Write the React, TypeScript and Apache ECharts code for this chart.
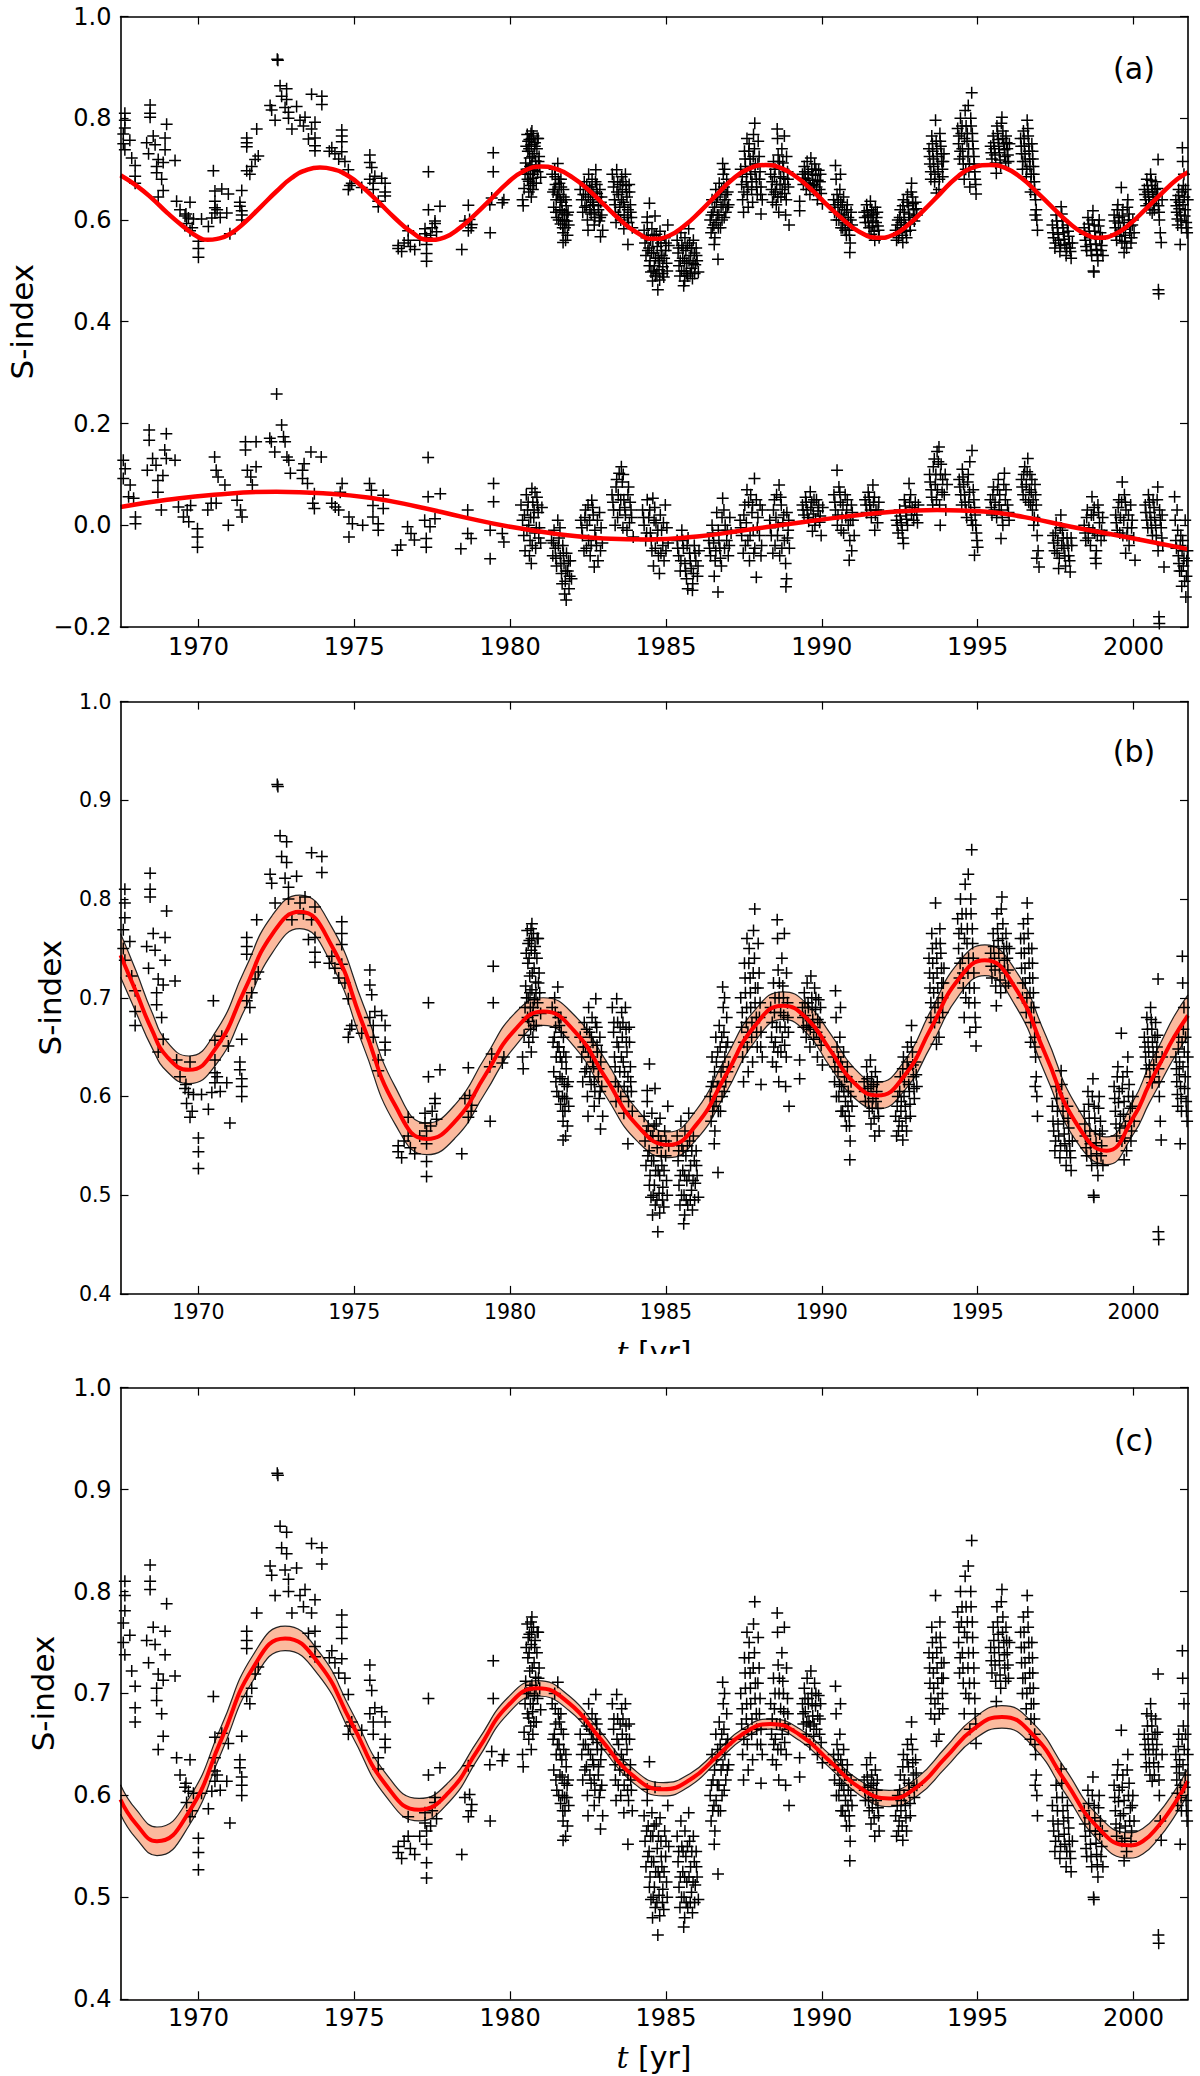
import { useEffect, useRef } from 'react';
import * as echarts from 'echarts';

// time axis (years) shared by all three panels
const X_MIN = 1967.5;
const X_MAX = 2001.75;
const xTicks = [1970, 1975, 1980, 1985, 1990, 1995, 2000];

// S-index observations, sparse early part [t, S]
const sEarly: number[][] = [
    [1967.64, 0.810], [1967.64, 0.796], [1967.64, 0.781], [1967.59, 0.769], [1967.80, 0.757], [1967.59, 0.750],
    [1967.64, 0.738], [1967.86, 0.722], [1967.97, 0.707], [1967.97, 0.686], [1967.97, 0.672],
    [1968.45, 0.826], [1968.45, 0.810], [1968.45, 0.802], [1968.98, 0.788], [1968.55, 0.765], [1968.34, 0.752],
    [1968.61, 0.748], [1968.93, 0.761], [1968.40, 0.730], [1968.93, 0.738], [1968.71, 0.719], [1968.87, 0.713],
    [1968.66, 0.705], [1968.66, 0.693], [1968.82, 0.680], [1969.25, 0.717], [1968.71, 0.645], [1968.87, 0.658],
    [1969.30, 0.637], [1969.73, 0.635], [1969.41, 0.620], [1969.57, 0.608], [1969.68, 0.604], [1969.84, 0.602],
    [1969.62, 0.593], [1969.73, 0.579], [1970.00, 0.558], [1970.00, 0.544], [1970.00, 0.527], [1970.10, 0.602],
    [1970.43, 0.604], [1970.32, 0.587], [1970.53, 0.614], [1970.53, 0.624], [1970.53, 0.637], [1970.53, 0.657],
    [1970.48, 0.697], [1970.75, 0.661], [1970.96, 0.651], [1971.01, 0.573], [1970.91, 0.614], [1971.39, 0.658],
    [1971.33, 0.635], [1971.33, 0.627], [1971.39, 0.618], [1971.39, 0.610], [1971.39, 0.600], [1969.60, 0.612],
    [1969.80, 0.585], [1970.60, 0.620], [1970.70, 0.605],
    [1971.55, 0.761], [1971.55, 0.752], [1971.55, 0.744], [1971.87, 0.779], [1971.71, 0.705], [1971.82, 0.719],
    [1971.92, 0.726], [1971.65, 0.690], [1971.55, 0.697],
    [1972.53, 0.916], [1972.55, 0.914], [1972.62, 0.864], [1972.83, 0.858], [1972.67, 0.843], [1972.83, 0.837],
    [1972.30, 0.825], [1972.35, 0.816], [1972.78, 0.821], [1972.89, 0.812], [1972.46, 0.796], [1972.89, 0.800],
    [1973.15, 0.823], [1973.26, 0.796], [1973.42, 0.802], [1973.37, 0.785], [1973.63, 0.847], [1973.96, 0.843],
    [1973.96, 0.827], [1973.74, 0.792], [1973.63, 0.779], [1973.53, 0.759], [1973.74, 0.761], [1973.74, 0.746],
    [1973.74, 0.736], [1973.00, 0.779],
    [1974.60, 0.777], [1974.60, 0.765], [1974.60, 0.754], [1974.28, 0.742], [1974.38, 0.730], [1974.60, 0.734],
    [1974.70, 0.715], [1974.81, 0.699], [1974.92, 0.672], [1974.81, 0.660], [1974.86, 0.668], [1974.20, 0.735],
    [1974.50, 0.720],
    [1975.50, 0.728], [1975.50, 0.713], [1975.56, 0.703], [1975.66, 0.686], [1975.50, 0.680], [1975.88, 0.682],
    [1975.99, 0.672], [1975.61, 0.672], [1975.24, 0.664], [1975.61, 0.660], [1975.99, 0.655], [1975.99, 0.647],
    [1975.77, 0.637], [1975.77, 0.626],
    [1976.41, 0.550], [1976.41, 0.544], [1976.52, 0.538], [1976.73, 0.579], [1976.73, 0.560], [1976.94, 0.542],
    [1977.27, 0.583], [1977.27, 0.573], [1977.32, 0.565], [1977.32, 0.552], [1977.32, 0.534], [1977.32, 0.519],
    [1977.38, 0.620], [1977.75, 0.627], [1977.59, 0.598], [1977.59, 0.593], [1977.64, 0.577], [1977.38, 0.695],
    [1978.45, 0.542], [1976.60, 0.555], [1976.80, 0.548], [1977.10, 0.560], [1977.45, 0.570], [1977.50, 0.585],
    [1978.66, 0.629], [1978.66, 0.579], [1978.77, 0.591], [1978.55, 0.598], [1978.70, 0.601], [1978.75, 0.585],
    [1979.36, 0.575], [1979.46, 0.732], [1979.46, 0.695], [1979.41, 0.643], [1979.35, 0.630], [1979.80, 0.640],
    [1979.75, 0.634],
];

// S-index observations, dense seasons from 1980 on [t, S]
const sSeasons: number[][] = [
    [1980.40, 0.640], [1980.42, 0.628], [1980.45, 0.662], [1980.48, 0.690], [1980.50, 0.712], [1980.52, 0.745],
    [1980.55, 0.768], [1980.57, 0.735], [1980.58, 0.700], [1980.60, 0.676], [1980.62, 0.758], [1980.63, 0.722],
    [1980.65, 0.690], [1980.67, 0.770], [1980.68, 0.748], [1980.70, 0.708], [1980.72, 0.682], [1980.73, 0.660],
    [1980.75, 0.765], [1980.77, 0.730], [1980.78, 0.698], [1980.80, 0.752], [1980.82, 0.716], [1980.84, 0.672],
    [1980.86, 0.740], [1980.88, 0.695], [1980.90, 0.760], [1980.93, 0.725], [1980.95, 0.705], [1980.98, 0.684],
    [1980.68, 0.645], [1980.60, 0.655], [1980.70, 0.775],

    [1981.35, 0.690], [1981.38, 0.655], [1981.40, 0.625], [1981.43, 0.700], [1981.46, 0.670], [1981.48, 0.640],
    [1981.50, 0.605], [1981.53, 0.711], [1981.55, 0.680], [1981.57, 0.650], [1981.60, 0.620], [1981.62, 0.592],
    [1981.64, 0.665], [1981.66, 0.635], [1981.68, 0.600], [1981.70, 0.575], [1981.72, 0.645], [1981.74, 0.612],
    [1981.76, 0.585], [1981.78, 0.560], [1981.80, 0.628], [1981.82, 0.598], [1981.84, 0.570], [1981.86, 0.615],
    [1981.88, 0.590], [1981.70, 0.556], [1981.58, 0.672], [1981.45, 0.685],

    [1982.25, 0.660], [1982.30, 0.640], [1982.33, 0.615], [1982.38, 0.675], [1982.42, 0.650], [1982.45, 0.628],
    [1982.48, 0.600], [1982.52, 0.690], [1982.55, 0.665], [1982.58, 0.640], [1982.60, 0.612], [1982.63, 0.680],
    [1982.66, 0.655], [1982.68, 0.630], [1982.72, 0.605], [1982.75, 0.699], [1982.78, 0.670], [1982.80, 0.645],
    [1982.83, 0.620], [1982.86, 0.598], [1982.88, 0.660], [1982.91, 0.635], [1982.94, 0.610], [1982.97, 0.580],
    [1982.90, 0.567], [1982.70, 0.590], [1982.50, 0.580],

    [1983.28, 0.690], [1983.32, 0.665], [1983.35, 0.640], [1983.38, 0.615], [1983.42, 0.699], [1983.45, 0.675],
    [1983.48, 0.650], [1983.52, 0.625], [1983.55, 0.600], [1983.58, 0.685], [1983.60, 0.660], [1983.63, 0.635],
    [1983.66, 0.610], [1983.70, 0.690], [1983.72, 0.668], [1983.75, 0.645], [1983.78, 0.620], [1983.80, 0.595],
    [1983.83, 0.655], [1983.86, 0.630], [1983.89, 0.605], [1983.92, 0.585], [1983.40, 0.595], [1983.65, 0.583],
    [1983.78, 0.552], [1984.47, 0.633], [1984.40, 0.606],

    [1984.30, 0.580], [1984.33, 0.555], [1984.36, 0.530], [1984.40, 0.595], [1984.43, 0.570], [1984.46, 0.545],
    [1984.49, 0.520], [1984.52, 0.498], [1984.55, 0.583], [1984.58, 0.560], [1984.61, 0.535], [1984.63, 0.510],
    [1984.66, 0.490], [1984.69, 0.572], [1984.72, 0.548], [1984.74, 0.463], [1984.75, 0.525], [1984.78, 0.502],
    [1984.81, 0.578], [1984.84, 0.555], [1984.87, 0.530], [1984.90, 0.508], [1984.93, 0.488], [1984.96, 0.565],
    [1984.99, 0.540], [1985.02, 0.515], [1985.06, 0.590], [1985.09, 0.550], [1984.65, 0.608], [1984.57, 0.480],
    [1984.80, 0.482],

    [1985.36, 0.560], [1985.39, 0.535], [1985.42, 0.510], [1985.45, 0.490], [1985.48, 0.575], [1985.51, 0.550],
    [1985.54, 0.525], [1985.57, 0.471], [1985.58, 0.500], [1985.61, 0.565], [1985.64, 0.540], [1985.67, 0.515],
    [1985.70, 0.490], [1985.73, 0.583], [1985.76, 0.555], [1985.79, 0.530], [1985.82, 0.505], [1985.85, 0.485],
    [1985.88, 0.560], [1985.91, 0.535], [1985.94, 0.512], [1985.97, 0.545], [1986.00, 0.520], [1986.04, 0.498],
    [1985.60, 0.480],

    [1986.42, 0.600], [1986.45, 0.575], [1986.48, 0.640], [1986.51, 0.615], [1986.54, 0.590], [1986.57, 0.565],
    [1986.60, 0.660], [1986.62, 0.635], [1986.65, 0.610], [1986.67, 0.523], [1986.68, 0.585], [1986.71, 0.672],
    [1986.74, 0.650], [1986.77, 0.625], [1986.80, 0.600], [1986.82, 0.711], [1986.84, 0.690], [1986.86, 0.665],
    [1986.89, 0.640], [1986.92, 0.615], [1986.95, 0.680], [1986.98, 0.655], [1987.01, 0.630], [1986.55, 0.552],
    [1986.88, 0.700],

    [1987.40, 0.700], [1987.43, 0.670], [1987.46, 0.640], [1987.49, 0.615], [1987.52, 0.735], [1987.55, 0.705],
    [1987.58, 0.675], [1987.61, 0.650], [1987.64, 0.625], [1987.67, 0.750], [1987.70, 0.720], [1987.72, 0.690],
    [1987.75, 0.660], [1987.78, 0.635], [1987.81, 0.768], [1987.84, 0.740], [1987.85, 0.790], [1987.87, 0.710],
    [1987.90, 0.680], [1987.93, 0.650], [1987.96, 0.755], [1987.99, 0.725], [1988.02, 0.695], [1988.05, 0.665],
    [1988.09, 0.640], [1987.60, 0.760], [1988.05, 0.612],

    [1988.36, 0.690], [1988.39, 0.660], [1988.42, 0.635], [1988.45, 0.715], [1988.48, 0.685], [1988.51, 0.655],
    [1988.54, 0.630], [1988.57, 0.779], [1988.58, 0.760], [1988.60, 0.728], [1988.63, 0.700], [1988.66, 0.670],
    [1988.69, 0.645], [1988.72, 0.740], [1988.75, 0.712], [1988.78, 0.682], [1988.81, 0.652], [1988.84, 0.610],
    [1988.87, 0.725], [1988.90, 0.695], [1988.93, 0.665], [1988.95, 0.590], [1988.62, 0.615], [1988.80, 0.765],

    [1989.38, 0.690], [1989.41, 0.670], [1989.44, 0.705], [1989.47, 0.682], [1989.50, 0.660], [1989.53, 0.715],
    [1989.56, 0.695], [1989.59, 0.672], [1989.62, 0.650], [1989.65, 0.722], [1989.68, 0.700], [1989.71, 0.678],
    [1989.74, 0.658], [1989.77, 0.710], [1989.80, 0.688], [1989.83, 0.665], [1989.86, 0.640], [1989.90, 0.698],
    [1989.94, 0.675], [1989.98, 0.652], [1990.02, 0.632], [1989.29, 0.637], [1989.29, 0.618],

    [1990.38, 0.640], [1990.41, 0.615], [1990.44, 0.707], [1990.46, 0.680], [1990.49, 0.650], [1990.52, 0.625],
    [1990.55, 0.600], [1990.58, 0.660], [1990.61, 0.635], [1990.64, 0.610], [1990.67, 0.585], [1990.70, 0.645],
    [1990.73, 0.620], [1990.76, 0.595], [1990.79, 0.570], [1990.82, 0.630], [1990.85, 0.605], [1990.88, 0.580],
    [1990.91, 0.555], [1990.94, 0.615], [1990.97, 0.590], [1990.90, 0.536], [1990.60, 0.690],

    [1991.36, 0.615], [1991.40, 0.595], [1991.44, 0.630], [1991.48, 0.608], [1991.52, 0.585], [1991.56, 0.637],
    [1991.60, 0.620], [1991.64, 0.598], [1991.68, 0.578], [1991.72, 0.625], [1991.76, 0.605], [1991.80, 0.588],
    [1991.84, 0.565], [1991.58, 0.572], [1991.70, 0.560],

    [1992.37, 0.580], [1992.40, 0.560], [1992.44, 0.600], [1992.48, 0.575], [1992.52, 0.620], [1992.55, 0.595],
    [1992.58, 0.570], [1992.62, 0.640], [1992.65, 0.615], [1992.68, 0.590], [1992.72, 0.565], [1992.75, 0.650],
    [1992.78, 0.628], [1992.81, 0.605], [1992.84, 0.580], [1992.88, 0.672], [1992.91, 0.645], [1992.94, 0.620],
    [1992.97, 0.598], [1993.01, 0.635], [1993.05, 0.610], [1992.60, 0.556],

    [1993.44, 0.740], [1993.47, 0.710], [1993.50, 0.680], [1993.53, 0.765], [1993.56, 0.735], [1993.59, 0.705],
    [1993.62, 0.675], [1993.65, 0.796], [1993.67, 0.755], [1993.70, 0.725], [1993.73, 0.695], [1993.76, 0.660],
    [1993.79, 0.770], [1993.82, 0.745], [1993.85, 0.715], [1993.88, 0.685], [1993.92, 0.730], [1993.68, 0.653],

    [1994.36, 0.780], [1994.39, 0.750], [1994.42, 0.720], [1994.45, 0.800], [1994.48, 0.770], [1994.51, 0.740],
    [1994.54, 0.710], [1994.57, 0.680], [1994.60, 0.815], [1994.63, 0.785], [1994.66, 0.755], [1994.69, 0.725],
    [1994.72, 0.695], [1994.75, 0.665], [1994.78, 0.800], [1994.81, 0.850], [1994.83, 0.770], [1994.86, 0.740],
    [1994.89, 0.710], [1994.92, 0.680], [1994.95, 0.651], [1994.70, 0.825],

    [1995.42, 0.745], [1995.46, 0.720], [1995.50, 0.765], [1995.54, 0.740], [1995.58, 0.712], [1995.62, 0.785],
    [1995.66, 0.758], [1995.70, 0.732], [1995.74, 0.705], [1995.78, 0.802], [1995.81, 0.775], [1995.84, 0.750],
    [1995.87, 0.725], [1995.91, 0.765], [1995.95, 0.740], [1995.99, 0.715], [1996.02, 0.750], [1995.60, 0.692],

    [1996.38, 0.760], [1996.41, 0.730], [1996.44, 0.700], [1996.47, 0.775], [1996.50, 0.745], [1996.53, 0.715],
    [1996.56, 0.685], [1996.59, 0.796], [1996.62, 0.765], [1996.65, 0.735], [1996.68, 0.705], [1996.71, 0.675],
    [1996.74, 0.750], [1996.77, 0.720], [1996.80, 0.690], [1996.83, 0.660], [1996.86, 0.640], [1996.88, 0.620],
    [1996.90, 0.600], [1996.92, 0.580], [1996.85, 0.610], [1996.70, 0.655],

    [1997.40, 0.590], [1997.44, 0.565], [1997.48, 0.545], [1997.52, 0.610], [1997.56, 0.585], [1997.60, 0.560],
    [1997.64, 0.538], [1997.68, 0.626], [1997.72, 0.598], [1997.76, 0.575], [1997.80, 0.552], [1997.84, 0.530],
    [1997.88, 0.590], [1997.92, 0.568], [1997.96, 0.545], [1998.00, 0.525], [1998.04, 0.555],

    [1998.42, 0.585], [1998.46, 0.560], [1998.50, 0.540], [1998.54, 0.605], [1998.58, 0.578], [1998.62, 0.552],
    [1998.66, 0.530], [1998.70, 0.618], [1998.72, 0.500], [1998.73, 0.498], [1998.74, 0.590], [1998.78, 0.565],
    [1998.82, 0.542], [1998.86, 0.520], [1998.90, 0.600], [1998.94, 0.575], [1998.98, 0.550], [1999.02, 0.530],

    [1999.38, 0.610], [1999.42, 0.585], [1999.46, 0.560], [1999.50, 0.630], [1999.54, 0.605], [1999.58, 0.580],
    [1999.61, 0.664], [1999.63, 0.555], [1999.66, 0.620], [1999.70, 0.595], [1999.74, 0.570], [1999.78, 0.545],
    [1999.82, 0.640], [1999.86, 0.612], [1999.90, 0.588], [1999.94, 0.565], [1999.98, 0.600], [2000.02, 0.575],
    [1999.70, 0.536],

    [2000.35, 0.660], [2000.39, 0.640], [2000.43, 0.680], [2000.47, 0.655], [2000.51, 0.632], [2000.55, 0.690],
    [2000.59, 0.668], [2000.63, 0.645], [2000.67, 0.620], [2000.71, 0.675], [2000.75, 0.650], [2000.79, 0.719],
    [2000.80, 0.628], [2000.83, 0.600], [2000.86, 0.575], [2000.89, 0.556], [2000.80, 0.463], [2000.81, 0.455],
    [2000.92, 0.640], [2000.60, 0.614],

    [2001.36, 0.640], [2001.39, 0.615], [2001.42, 0.590], [2001.45, 0.660], [2001.48, 0.635], [2001.51, 0.610],
    [2001.54, 0.585], [2001.57, 0.742], [2001.58, 0.715], [2001.60, 0.668], [2001.63, 0.645], [2001.66, 0.620],
    [2001.69, 0.595], [2001.72, 0.575], [2001.50, 0.552], [2001.62, 0.690],
];

// extra points in the crowded cores of each season [t, S]
const sCores: number[][] = [
    [1980.53, 0.700], [1980.56, 0.680], [1980.61, 0.740], [1980.64, 0.705], [1980.69, 0.760], [1980.71, 0.725],
    [1980.74, 0.690], [1980.79, 0.745], [1980.83, 0.705], [1980.87, 0.760], [1980.91, 0.715], [1980.66, 0.668],
    [1980.76, 0.672], [1980.58, 0.755],
    [1981.42, 0.660], [1981.47, 0.615], [1981.52, 0.650], [1981.56, 0.600], [1981.61, 0.640], [1981.63, 0.680],
    [1981.67, 0.618], [1981.71, 0.660], [1981.75, 0.598], [1981.79, 0.640], [1981.83, 0.610], [1981.69, 0.585],
    [1982.35, 0.650], [1982.40, 0.625], [1982.46, 0.668], [1982.51, 0.645], [1982.56, 0.620], [1982.61, 0.660],
    [1982.65, 0.635], [1982.70, 0.615], [1982.74, 0.675], [1982.79, 0.652], [1982.84, 0.628], [1982.89, 0.605],
    [1982.93, 0.645],
    [1983.33, 0.675], [1983.37, 0.630], [1983.43, 0.655], [1983.47, 0.610], [1983.53, 0.670], [1983.57, 0.640],
    [1983.62, 0.675], [1983.67, 0.625], [1983.73, 0.655], [1983.77, 0.605], [1983.82, 0.670], [1983.87, 0.615],
    [1984.38, 0.565], [1984.42, 0.540], [1984.47, 0.510], [1984.51, 0.560], [1984.54, 0.535], [1984.59, 0.500],
    [1984.62, 0.570], [1984.67, 0.525], [1984.71, 0.495], [1984.76, 0.560], [1984.80, 0.520], [1984.85, 0.540],
    [1984.89, 0.495], [1984.94, 0.525], [1985.00, 0.555], [1985.04, 0.500],
    [1985.41, 0.545], [1985.46, 0.520], [1985.50, 0.500], [1985.55, 0.545], [1985.60, 0.520], [1985.65, 0.495],
    [1985.69, 0.550], [1985.74, 0.520], [1985.78, 0.495], [1985.83, 0.545], [1985.87, 0.515], [1985.92, 0.495],
    [1985.98, 0.530],
    [1986.46, 0.610], [1986.50, 0.585], [1986.56, 0.625], [1986.61, 0.595], [1986.66, 0.645], [1986.70, 0.610],
    [1986.75, 0.585], [1986.79, 0.660], [1986.83, 0.630], [1986.87, 0.605], [1986.93, 0.650], [1986.97, 0.625],
    [1987.45, 0.685], [1987.50, 0.655], [1987.54, 0.720], [1987.59, 0.690], [1987.63, 0.665], [1987.66, 0.735],
    [1987.71, 0.705], [1987.76, 0.675], [1987.80, 0.725], [1987.86, 0.695], [1987.91, 0.665], [1987.95, 0.710],
    [1988.00, 0.680], [1988.04, 0.650],
    [1988.41, 0.675], [1988.46, 0.650], [1988.50, 0.700], [1988.55, 0.670], [1988.59, 0.645], [1988.64, 0.715],
    [1988.68, 0.685], [1988.73, 0.660], [1988.77, 0.700], [1988.82, 0.670], [1988.86, 0.640], [1988.91, 0.680],
    [1989.40, 0.680], [1989.46, 0.695], [1989.52, 0.672], [1989.57, 0.690], [1989.63, 0.668], [1989.69, 0.690],
    [1989.75, 0.670], [1989.81, 0.700], [1989.87, 0.678], [1989.93, 0.660], [1989.96, 0.690],
    [1990.42, 0.630], [1990.47, 0.600], [1990.53, 0.640], [1990.57, 0.612], [1990.62, 0.585], [1990.66, 0.630],
    [1990.71, 0.605], [1990.75, 0.580], [1990.80, 0.620], [1990.84, 0.590], [1990.89, 0.570], [1990.93, 0.600],
    [1991.38, 0.605], [1991.46, 0.618], [1991.50, 0.595], [1991.58, 0.610], [1991.62, 0.588], [1991.66, 0.612],
    [1991.74, 0.595], [1991.78, 0.615], [1991.82, 0.580],
    [1992.42, 0.590], [1992.46, 0.565], [1992.50, 0.605], [1992.54, 0.585], [1992.60, 0.628], [1992.64, 0.600],
    [1992.70, 0.578], [1992.74, 0.635], [1992.79, 0.612], [1992.83, 0.592], [1992.87, 0.655], [1992.92, 0.632],
    [1992.96, 0.608], [1993.03, 0.622],
    [1993.46, 0.725], [1993.50, 0.695], [1993.55, 0.750], [1993.58, 0.720], [1993.63, 0.690], [1993.69, 0.740],
    [1993.72, 0.710], [1993.77, 0.680], [1993.80, 0.755], [1993.84, 0.730], [1993.87, 0.700], [1993.90, 0.715],
    [1994.40, 0.765], [1994.44, 0.735], [1994.50, 0.785], [1994.53, 0.725], [1994.58, 0.760], [1994.62, 0.700],
    [1994.67, 0.770], [1994.71, 0.740], [1994.74, 0.710], [1994.79, 0.785], [1994.84, 0.755], [1994.88, 0.725],
    [1994.91, 0.695], [1994.94, 0.670],
    [1995.44, 0.732], [1995.52, 0.752], [1995.56, 0.728], [1995.64, 0.770], [1995.68, 0.745], [1995.72, 0.718],
    [1995.76, 0.790], [1995.80, 0.760], [1995.86, 0.738], [1995.90, 0.712], [1995.93, 0.752], [1995.97, 0.728],
    [1996.40, 0.745], [1996.45, 0.715], [1996.49, 0.760], [1996.52, 0.730], [1996.58, 0.700], [1996.61, 0.780],
    [1996.64, 0.750], [1996.67, 0.720], [1996.72, 0.690], [1996.76, 0.735], [1996.79, 0.705], [1996.82, 0.675],
    [1996.84, 0.650],
    [1997.42, 0.575], [1997.50, 0.555], [1997.54, 0.598], [1997.58, 0.572], [1997.66, 0.550], [1997.70, 0.612],
    [1997.74, 0.585], [1997.78, 0.562], [1997.86, 0.545], [1997.90, 0.578], [1997.94, 0.555], [1997.98, 0.538],
    [1998.44, 0.572], [1998.48, 0.548], [1998.56, 0.592], [1998.60, 0.565], [1998.64, 0.540], [1998.68, 0.600],
    [1998.76, 0.578], [1998.80, 0.553], [1998.84, 0.532], [1998.88, 0.588], [1998.92, 0.562], [1998.96, 0.540],
    [1999.00, 0.565],
    [1999.40, 0.598], [1999.44, 0.572], [1999.48, 0.620], [1999.52, 0.594], [1999.56, 0.568], [1999.64, 0.608],
    [1999.68, 0.582], [1999.72, 0.558], [1999.80, 0.625], [1999.84, 0.600], [1999.88, 0.575], [1999.92, 0.555],
    [1999.96, 0.590],
    [2000.37, 0.650], [2000.41, 0.628], [2000.45, 0.668], [2000.49, 0.645], [2000.53, 0.620], [2000.57, 0.678],
    [2000.61, 0.655], [2000.65, 0.632], [2000.69, 0.660], [2000.73, 0.640], [2000.77, 0.662], [2000.82, 0.615],
    [2001.38, 0.628], [2001.41, 0.602], [2001.44, 0.648], [2001.47, 0.622], [2001.53, 0.598], [2001.56, 0.655],
    [2001.59, 0.630], [2001.64, 0.608], [2001.67, 0.660], [2001.70, 0.585], [2001.74, 0.640],
];

// residuals shown in the lower half of panel (a), early part [t, dS]
const rEarly: number[][] = [
    [1967.59, 0.128], [1967.65, 0.111], [1967.59, 0.092], [1967.81, 0.079], [1967.76, 0.056], [1967.92, 0.053],
    [1967.98, 0.016], [1967.98, 0.003], [1968.36, 0.108], [1968.42, 0.187], [1968.42, 0.167], [1968.53, 0.131],
    [1968.97, 0.180], [1968.92, 0.148], [1968.97, 0.131], [1968.64, 0.118], [1968.86, 0.098], [1968.70, 0.088],
    [1968.70, 0.065], [1968.81, 0.030], [1969.25, 0.128], [1969.36, 0.036], [1969.64, 0.030], [1969.75, 0.039],
    [1969.52, 0.016], [1969.69, 0.007], [1969.97, -0.007], [1969.97, -0.023], [1969.97, -0.043], [1970.30, 0.030],
    [1970.41, 0.043], [1970.52, 0.134], [1970.57, 0.108], [1970.63, 0.095], [1970.85, 0.079], [1970.57, 0.043],
    [1970.96, 0.000], [1971.24, 0.049], [1971.35, 0.030], [1971.40, 0.016], [1971.51, 0.164], [1971.51, 0.148],
    [1971.85, 0.164], [1971.57, 0.108], [1971.68, 0.095], [1971.73, 0.079], [1971.85, 0.115], [1972.51, 0.258],
    [1972.67, 0.197], [1972.29, 0.171], [1972.34, 0.164], [1972.73, 0.174], [1972.78, 0.164], [1972.45, 0.144],
    [1972.84, 0.134], [1972.90, 0.128], [1972.95, 0.102], [1973.39, 0.121], [1973.34, 0.108], [1973.34, 0.092],
    [1973.61, 0.144], [1973.94, 0.134], [1973.50, 0.082], [1973.72, 0.062], [1973.67, 0.043], [1973.72, 0.033],
    [1974.28, 0.043], [1974.39, 0.036], [1974.61, 0.082], [1974.55, 0.065], [1974.50, 0.030], [1974.83, 0.016],
    [1974.83, -0.023], [1974.94, 0.003], [1975.27, 0.000], [1975.49, 0.082], [1975.55, 0.069], [1975.60, 0.039],
    [1975.60, 0.016], [1975.77, 0.003], [1975.77, -0.010], [1975.93, 0.059], [1975.93, 0.033], [1976.38, -0.049],
    [1976.49, -0.039], [1976.71, -0.003], [1976.82, -0.016], [1976.93, -0.029], [1977.31, -0.026], [1977.31, -0.043],
    [1977.26, 0.010], [1977.43, -0.003], [1977.59, 0.013], [1977.37, 0.133], [1977.37, 0.056], [1977.76, 0.062],
    [1978.42, -0.046], [1978.64, 0.030], [1978.64, -0.016], [1978.75, -0.026], [1979.36, -0.066], [1979.47, 0.082],
    [1979.47, 0.046], [1979.75, -0.016], [1979.80, -0.033], [1979.36, -0.010],
];

// residuals, dense seasons [t, dS]
const rSeasons: number[][] = [
    [1980.35, 0.040], [1980.40, 0.010], [1980.44, -0.020], [1980.48, -0.050], [1980.52, 0.060], [1980.56, 0.030],
    [1980.60, 0.000], [1980.64, -0.030], [1980.68, -0.075], [1980.70, 0.072], [1980.73, 0.045], [1980.76, 0.015],
    [1980.79, -0.015], [1980.82, -0.045], [1980.86, 0.055], [1980.90, 0.025], [1980.94, -0.005], [1980.98, -0.035],
    [1981.02, 0.035], [1980.62, -0.060], [1980.80, 0.065],
    [1981.33, -0.030], [1981.37, -0.060], [1981.41, -0.010], [1981.45, -0.045], [1981.49, -0.080], [1981.53, 0.010],
    [1981.57, -0.025], [1981.61, -0.060], [1981.65, -0.095], [1981.69, -0.040], [1981.73, -0.075], [1981.77, -0.110],
    [1981.80, -0.147], [1981.81, -0.055], [1981.85, -0.090], [1981.89, -0.125], [1981.93, -0.070], [1981.97, -0.105],
    [1981.75, -0.135], [1981.60, -0.005],
    [1982.27, 0.010], [1982.32, -0.020], [1982.37, -0.050], [1982.42, 0.030], [1982.47, 0.000], [1982.52, -0.030],
    [1982.57, -0.060], [1982.62, 0.049], [1982.67, 0.020], [1982.72, -0.010], [1982.77, -0.040], [1982.82, -0.070],
    [1982.87, 0.025], [1982.92, -0.005], [1982.96, -0.035], [1982.70, -0.082], [1982.50, 0.040],
    [1983.27, 0.060], [1983.32, 0.030], [1983.37, 0.000], [1983.42, 0.090], [1983.47, 0.060], [1983.52, 0.030],
    [1983.57, 0.115], [1983.60, 0.085], [1983.65, 0.050], [1983.70, 0.020], [1983.75, -0.010], [1983.80, 0.075],
    [1983.85, 0.045], [1983.90, 0.015], [1983.95, -0.023], [1983.62, -0.005], [1983.50, 0.102],
    [1984.25, 0.030], [1984.30, 0.000], [1984.35, -0.030], [1984.40, 0.050], [1984.45, 0.015], [1984.50, -0.015],
    [1984.55, -0.050], [1984.60, -0.080], [1984.64, 0.035], [1984.68, 0.005], [1984.72, -0.025], [1984.76, -0.060],
    [1984.79, -0.095], [1984.82, 0.020], [1984.86, -0.010], [1984.90, -0.040], [1984.94, -0.070], [1984.98, 0.040],
    [1985.03, -0.005], [1985.07, -0.035], [1984.58, 0.053],
    [1985.36, -0.030], [1985.41, -0.060], [1985.46, -0.090], [1985.51, -0.010], [1985.56, -0.045], [1985.61, -0.075],
    [1985.66, -0.105], [1985.71, -0.025], [1985.76, -0.055], [1985.81, -0.085], [1985.85, -0.128], [1985.86, -0.115],
    [1985.91, -0.040], [1985.96, -0.070], [1986.01, -0.100], [1986.06, -0.050], [1985.70, -0.125],
    [1986.38, -0.030], [1986.43, -0.060], [1986.48, 0.000], [1986.53, -0.035], [1986.58, -0.070], [1986.63, 0.025],
    [1986.67, -0.131], [1986.68, -0.010], [1986.73, -0.045], [1986.78, -0.080], [1986.82, 0.053], [1986.86, 0.030],
    [1986.90, 0.000], [1986.95, -0.030], [1987.00, -0.060], [1987.05, 0.015], [1987.09, -0.015], [1986.55, -0.100],
    [1987.38, 0.010], [1987.43, -0.020], [1987.48, -0.055], [1987.53, 0.040], [1987.58, 0.005], [1987.63, -0.030],
    [1987.68, -0.070], [1987.72, 0.060], [1987.76, 0.025], [1987.80, -0.010], [1987.84, 0.092], [1987.85, -0.045],
    [1987.90, 0.050], [1987.95, 0.015], [1988.00, -0.020], [1988.05, -0.060], [1988.09, 0.030], [1987.90, -0.102],
    [1987.60, 0.070],
    [1988.33, 0.010], [1988.38, -0.020], [1988.43, -0.055], [1988.48, 0.050], [1988.53, 0.015], [1988.58, -0.020],
    [1988.63, 0.079], [1988.65, -0.060], [1988.70, 0.040], [1988.75, 0.005], [1988.80, -0.030], [1988.84, -0.075],
    [1988.88, 0.025], [1988.92, -0.010], [1988.96, -0.045], [1988.85, -0.121], [1988.87, -0.105], [1988.55, 0.060],
    [1989.38, 0.040], [1989.43, 0.020], [1989.48, 0.055], [1989.53, 0.030], [1989.58, 0.008], [1989.63, 0.066],
    [1989.68, 0.045], [1989.73, 0.022], [1989.78, 0.000], [1989.83, 0.050], [1989.88, 0.028], [1989.93, 0.006],
    [1989.98, -0.020], [1990.03, 0.035], [1989.70, -0.012],
    [1990.39, 0.060], [1990.44, 0.030], [1990.49, 0.108], [1990.50, 0.000], [1990.55, 0.075], [1990.60, 0.045],
    [1990.65, 0.015], [1990.70, -0.015], [1990.75, 0.060], [1990.80, 0.030], [1990.85, 0.000], [1990.90, -0.030],
    [1990.95, 0.040], [1991.00, 0.010], [1991.04, -0.020], [1990.88, -0.069], [1990.96, -0.050],
    [1991.39, 0.050], [1991.44, 0.025], [1991.49, 0.065], [1991.54, 0.040], [1991.59, 0.015], [1991.64, 0.079],
    [1991.69, 0.055], [1991.74, 0.030], [1991.79, 0.005], [1991.83, 0.045], [1991.70, -0.010],
    [1992.40, 0.010], [1992.45, -0.015], [1992.50, 0.030], [1992.55, 0.005], [1992.60, -0.025], [1992.65, 0.050],
    [1992.70, 0.025], [1992.75, 0.000], [1992.80, 0.082], [1992.85, 0.060], [1992.90, 0.035], [1992.95, 0.010],
    [1993.00, 0.045], [1993.05, 0.020], [1993.10, 0.040], [1992.62, -0.036],
    [1993.46, 0.100], [1993.51, 0.070], [1993.56, 0.040], [1993.61, 0.130], [1993.66, 0.100], [1993.71, 0.070],
    [1993.76, 0.154], [1993.78, 0.040], [1993.83, 0.120], [1993.88, 0.090], [1993.93, 0.060], [1993.98, 0.030],
    [1994.02, 0.080], [1993.80, 0.000], [1993.70, 0.145],
    [1994.41, 0.090], [1994.46, 0.060], [1994.51, 0.110], [1994.55, 0.080], [1994.60, 0.045], [1994.65, 0.015],
    [1994.70, 0.100], [1994.74, 0.065], [1994.78, 0.030], [1994.82, 0.147], [1994.84, 0.000], [1994.88, 0.050],
    [1994.92, 0.020], [1994.96, -0.015], [1995.00, -0.043], [1994.90, -0.059], [1994.75, 0.125],
    [1995.41, 0.050], [1995.46, 0.020], [1995.51, 0.075], [1995.56, 0.045], [1995.61, 0.015], [1995.66, 0.090],
    [1995.71, 0.060], [1995.76, 0.030], [1995.81, 0.000], [1995.86, 0.102], [1995.91, 0.070], [1995.96, 0.040],
    [1996.01, 0.010], [1995.75, -0.026],
    [1996.41, 0.090], [1996.46, 0.060], [1996.51, 0.115], [1996.56, 0.080], [1996.61, 0.131], [1996.64, 0.045],
    [1996.68, 0.100], [1996.72, 0.065], [1996.76, 0.030], [1996.80, 0.000], [1996.84, 0.080], [1996.88, 0.040],
    [1996.91, -0.020], [1996.94, -0.050], [1996.97, -0.082], [1996.90, -0.065], [1996.93, 0.010],
    [1997.42, -0.020], [1997.47, -0.050], [1997.52, 0.005], [1997.57, -0.030], [1997.62, -0.065], [1997.67, 0.020],
    [1997.72, -0.010], [1997.77, -0.045], [1997.82, -0.080], [1997.87, -0.025], [1997.92, -0.060], [1997.97, -0.092],
    [1998.02, -0.040], [1997.60, -0.085],
    [1998.42, 0.000], [1998.47, -0.030], [1998.52, 0.030], [1998.57, -0.005], [1998.62, -0.040], [1998.67, 0.056],
    [1998.72, 0.020], [1998.76, -0.015], [1998.80, -0.075], [1998.81, -0.050], [1998.86, 0.040], [1998.91, 0.005],
    [1998.96, -0.030], [1999.01, 0.015], [1999.06, -0.020], [1998.78, -0.065],
    [1999.43, 0.020], [1999.48, -0.010], [1999.53, 0.050], [1999.58, 0.015], [1999.64, 0.085], [1999.66, -0.020],
    [1999.71, 0.060], [1999.76, 0.030], [1999.81, -0.005], [1999.86, -0.040], [1999.91, 0.040], [1999.96, 0.010],
    [2000.01, -0.025], [2000.05, -0.069], [1999.75, -0.055],
    [2000.38, 0.040], [2000.43, 0.010], [2000.48, 0.060], [2000.53, 0.025], [2000.58, -0.005], [2000.63, 0.050],
    [2000.68, 0.015], [2000.73, -0.020], [2000.78, 0.075], [2000.79, -0.050], [2000.84, 0.030], [2000.89, -0.005],
    [2000.94, -0.040], [2000.98, -0.082], [2000.82, -0.180], [2000.83, -0.193], [2000.92, 0.020],
    [2001.32, 0.056], [2001.36, -0.030], [2001.40, 0.030], [2001.44, -0.060], [2001.48, -0.090], [2001.52, -0.020],
    [2001.56, -0.050], [2001.60, -0.080], [2001.64, -0.110], [2001.68, -0.141], [2001.71, -0.070], [2001.66, 0.010],
    [2001.55, -0.120],
];

// extra residual points in the crowded cores [t, dS]
const rCores: number[][] = [
    [1980.46, 0.020], [1980.54, -0.010], [1980.58, 0.045], [1980.66, 0.015], [1980.71, -0.040], [1980.77, 0.030],
    [1980.84, -0.005], [1980.88, 0.040], [1980.92, -0.025],
    [1981.39, -0.035], [1981.47, -0.065], [1981.55, -0.040], [1981.63, -0.075], [1981.67, -0.115], [1981.71, -0.055],
    [1981.79, -0.090], [1981.87, -0.070], [1981.91, -0.100],
    [1982.30, -0.005], [1982.40, 0.015], [1982.45, -0.045], [1982.55, 0.010], [1982.60, -0.040], [1982.65, 0.035],
    [1982.75, -0.025], [1982.80, 0.010], [1982.90, -0.050],
    [1983.30, 0.045], [1983.40, 0.075], [1983.45, 0.015], [1983.55, 0.050], [1983.63, 0.100], [1983.68, 0.035],
    [1983.78, 0.060], [1983.83, 0.005], [1983.88, 0.030],
    [1984.28, 0.015], [1984.38, -0.015], [1984.48, 0.030], [1984.53, -0.030], [1984.62, 0.010], [1984.66, -0.045],
    [1984.74, -0.010], [1984.84, -0.055], [1984.92, 0.005], [1985.00, -0.050],
    [1985.38, -0.045], [1985.48, -0.070], [1985.54, -0.030], [1985.63, -0.090], [1985.68, -0.040], [1985.78, -0.070],
    [1985.88, -0.095], [1985.93, -0.055], [1986.03, -0.080],
    [1986.40, -0.045], [1986.50, -0.015], [1986.60, -0.050], [1986.70, -0.030], [1986.75, -0.065], [1986.80, 0.015],
    [1986.88, -0.045], [1986.97, -0.010], [1987.03, -0.040],
    [1987.40, -0.005], [1987.50, 0.020], [1987.55, -0.040], [1987.65, 0.045], [1987.70, -0.020], [1987.78, 0.040],
    [1987.82, -0.055], [1987.93, -0.005], [1988.02, 0.040], [1988.07, -0.040],
    [1988.35, -0.005], [1988.45, 0.030], [1988.50, -0.040], [1988.60, 0.000], [1988.68, 0.055], [1988.72, -0.045],
    [1988.78, 0.020], [1988.90, -0.025], [1988.94, 0.010],
    [1989.40, 0.030], [1989.50, 0.045], [1989.55, 0.015], [1989.65, 0.035], [1989.75, 0.050], [1989.80, 0.012],
    [1989.90, 0.040], [1989.95, 0.018],
    [1990.42, 0.045], [1990.52, 0.020], [1990.58, 0.065], [1990.62, -0.010], [1990.68, 0.040], [1990.77, 0.015],
    [1990.82, 0.050], [1990.92, 0.010], [1990.98, 0.025],
    [1991.42, 0.040], [1991.52, 0.055], [1991.57, 0.030], [1991.66, 0.045], [1991.72, 0.020], [1991.81, 0.030],
    [1992.42, 0.000], [1992.52, 0.018], [1992.58, -0.010], [1992.68, 0.038], [1992.72, 0.012], [1992.82, 0.045],
    [1992.88, 0.020], [1992.98, 0.030], [1993.07, 0.005],
    [1993.48, 0.085], [1993.53, 0.055], [1993.58, 0.115], [1993.64, 0.080], [1993.68, 0.050], [1993.74, 0.125],
    [1993.81, 0.100], [1993.86, 0.065], [1993.96, 0.100],
    [1994.43, 0.075], [1994.49, 0.040], [1994.53, 0.095], [1994.58, 0.060], [1994.63, 0.030], [1994.68, 0.085],
    [1994.72, 0.045], [1994.80, 0.010], [1994.86, 0.070], [1994.90, 0.035], [1994.94, 0.000], [1994.98, -0.030],
    [1995.44, 0.035], [1995.49, 0.060], [1995.54, 0.030], [1995.64, 0.070], [1995.69, 0.040], [1995.79, 0.015],
    [1995.84, 0.080], [1995.89, 0.050], [1995.99, 0.025],
    [1996.43, 0.075], [1996.48, 0.100], [1996.54, 0.050], [1996.59, 0.105], [1996.66, 0.070], [1996.70, 0.040],
    [1996.74, 0.090], [1996.78, 0.050], [1996.82, 0.015], [1996.86, 0.060],
    [1997.44, -0.035], [1997.50, -0.015], [1997.55, -0.055], [1997.65, -0.005], [1997.70, -0.040], [1997.75, -0.025],
    [1997.80, -0.060], [1997.90, -0.040], [1997.95, -0.070], [1998.00, -0.025],
    [1998.45, -0.015], [1998.50, 0.015], [1998.55, -0.025], [1998.65, 0.020], [1998.70, -0.010], [1998.74, 0.035],
    [1998.84, -0.020], [1998.88, 0.025], [1998.98, -0.010],
    [1999.45, 0.005], [1999.51, 0.035], [1999.56, -0.015], [1999.62, 0.045], [1999.69, 0.010], [1999.74, 0.045],
    [1999.79, -0.020], [1999.84, 0.020], [1999.94, -0.005],
    [2000.40, 0.025], [2000.46, -0.005], [2000.51, 0.045], [2000.56, 0.010], [2000.61, -0.020], [2000.66, 0.035],
    [2000.71, 0.000], [2000.76, 0.050], [2000.86, 0.010], [2000.91, -0.025],
    [2001.34, 0.010], [2001.38, -0.045], [2001.42, -0.010], [2001.46, -0.075], [2001.50, -0.040], [2001.54, -0.090],
    [2001.58, -0.030], [2001.62, -0.065], [2001.70, -0.100], [2001.73, -0.050],
];

// panel (a): cycle fit through the data and slow fit through the residuals
const fitATop: number[][] = [
    [1967.5, 0.688], [1968.0, 0.668], [1968.5, 0.643], [1969.0, 0.614], [1969.5, 0.588], [1970.0, 0.566],
    [1970.3, 0.561], [1970.6, 0.563], [1971.0, 0.572], [1971.5, 0.596], [1972.0, 0.626], [1972.5, 0.656],
    [1973.0, 0.683], [1973.5, 0.699], [1973.9, 0.703], [1974.3, 0.700], [1974.8, 0.687], [1975.3, 0.663],
    [1975.8, 0.634], [1976.3, 0.604], [1976.8, 0.578], [1977.4, 0.561], [1977.9, 0.566], [1978.4, 0.585],
    [1978.9, 0.612], [1979.4, 0.642], [1979.9, 0.672], [1980.4, 0.695], [1981.0, 0.705], [1981.5, 0.700],
    [1982.0, 0.684], [1982.5, 0.660], [1983.0, 0.631], [1983.5, 0.602], [1984.0, 0.578], [1984.6, 0.563],
    [1985.1, 0.569], [1985.6, 0.589], [1986.1, 0.617], [1986.6, 0.648], [1987.1, 0.678], [1987.6, 0.699],
    [1988.2, 0.708], [1988.7, 0.702], [1989.2, 0.684], [1989.7, 0.658], [1990.2, 0.628], [1990.7, 0.600],
    [1991.2, 0.577], [1991.8, 0.565], [1992.3, 0.571], [1992.8, 0.592], [1993.3, 0.621], [1993.8, 0.652],
    [1994.3, 0.682], [1994.8, 0.702], [1995.4, 0.708], [1995.9, 0.702], [1996.4, 0.683], [1996.9, 0.655],
    [1997.4, 0.625], [1997.9, 0.596], [1998.4, 0.574], [1998.9, 0.565], [1999.4, 0.572], [1999.9, 0.593],
    [2000.4, 0.622], [2000.9, 0.652], [2001.4, 0.680], [2001.75, 0.694],
];
const fitAResid: number[][] = [
    [1967.5, 0.036], [1969.0, 0.050], [1970.5, 0.060], [1972.5, 0.066], [1974.0, 0.063], [1975.5, 0.054],
    [1977.0, 0.037], [1978.5, 0.016], [1980.0, -0.003], [1981.5, -0.017], [1983.0, -0.026], [1984.5, -0.028],
    [1986.0, -0.022], [1987.5, -0.010], [1989.0, 0.003], [1990.5, 0.015], [1992.0, 0.025], [1993.7, 0.030],
    [1995.2, 0.027], [1996.5, 0.016], [1998.0, -0.003], [1999.5, -0.020], [2000.5, -0.032], [2001.75, -0.047],
];

// panel (b): mean model and its half-width
const fitBTime = [
    1967.5, 1968.0, 1968.5, 1969.0, 1969.69, 1970.58, 1971.47, 1972.36, 1973.25, 1974.27, 1975.29, 1976.31,
    1977.33, 1978.27, 1979.2, 1980.14, 1981.07, 1982.07, 1983.07, 1984.07, 1985.07, 1985.99, 1986.92, 1987.84,
    1988.76, 1989.52, 1990.28, 1991.03, 1991.79, 1992.65, 1993.51, 1994.37, 1995.23, 1996.21, 1997.19, 1998.16,
    1999.14, 2000.0, 2000.5, 2000.9, 2001.3, 2001.75,
];
const fitBMean = [
    0.743, 0.706, 0.668, 0.640, 0.627, 0.650, 0.707, 0.764, 0.787, 0.753, 0.672, 0.591,
    0.557, 0.576, 0.6215, 0.667, 0.686, 0.666, 0.6185, 0.571, 0.551, 0.572, 0.6215, 0.671,
    0.692, 0.679, 0.6465, 0.614, 0.601, 0.621, 0.6695, 0.718, 0.738, 0.710, 0.6415, 0.573,
    0.545, 0.579, 0.612, 0.636, 0.660, 0.682,
];
const fitBSigma = [
    0.022, 0.021, 0.018, 0.015, 0.014, 0.017, 0.020, 0.019, 0.017, 0.019, 0.021, 0.019,
    0.016, 0.017, 0.018, 0.017, 0.014, 0.016, 0.018, 0.016, 0.013, 0.015, 0.018, 0.016,
    0.014, 0.015, 0.017, 0.015, 0.0135, 0.015, 0.018, 0.017, 0.0155, 0.018, 0.020, 0.018,
    0.014, 0.017, 0.019, 0.020, 0.021, 0.021,
];

// panel (c): mean model and its half-width
const fitCTime = [
    1967.5, 1968.0, 1968.67, 1969.70, 1970.73, 1971.75, 1972.78, 1973.86, 1974.93, 1976.01, 1977.08, 1978.03,
    1978.98, 1979.93, 1980.88, 1981.89, 1982.90, 1983.90, 1984.91, 1985.77, 1986.63, 1987.49, 1988.35, 1989.30,
    1990.26, 1991.21, 1992.16, 1993.07, 1993.97, 1994.88, 1995.78, 1996.80, 1997.81, 1998.83, 1999.84, 2000.3,
    2000.8, 2001.3, 2001.75,
];
const fitCMean = [
    0.596, 0.572, 0.555, 0.584, 0.6545, 0.725, 0.754, 0.7295, 0.670, 0.6105, 0.586, 0.603,
    0.6455, 0.688, 0.705, 0.6905, 0.6555, 0.6205, 0.606, 0.6153, 0.638, 0.6607, 0.670, 0.6593,
    0.6335, 0.6077, 0.597, 0.6087, 0.637, 0.6653, 0.677, 0.6586, 0.614, 0.5694, 0.551, 0.555,
    0.570, 0.591, 0.614,
];
const fitCSigma = [
    0.0145, 0.0142, 0.014, 0.0135, 0.013, 0.0125, 0.012, 0.0118, 0.0115, 0.0112, 0.011, 0.010,
    0.009, 0.008, 0.0075, 0.0072, 0.007, 0.0068, 0.0065, 0.006, 0.0055, 0.0052, 0.005, 0.0058,
    0.0065, 0.0072, 0.008, 0.009, 0.010, 0.0105, 0.011, 0.0115, 0.012, 0.0122, 0.0125, 0.0125,
    0.0125, 0.0125, 0.0125,
];

const PLUS = 'path://M0,5L10,5M5,0L5,10';
const FONT = 'DejaVu Sans';
const RED = '#ff0000';
const BAND = '#fbba9e';

const fmtY = (v: number) => (v < 0 ? '\u2212' + Math.abs(v).toFixed(1) : v.toFixed(1));

function xAxisFor(grid: number, position: string, fontSize: number, labels: boolean, margin: number) {
    return {
        type: 'value',
        gridIndex: grid,
        position,
        min: X_MIN,
        max: X_MAX,
        z: 10,
        axisLine: { show: true, onZero: false, lineStyle: { color: '#000', width: 1.6 } },
        axisTick: { show: true, inside: true, length: 8, customValues: xTicks, lineStyle: { color: '#000', width: 1.2 } },
        axisLabel: {
            show: labels,
            customValues: xTicks,
            fontSize,
            fontFamily: FONT,
            color: '#000',
            margin,
            formatter: (v: number) => String(v),
        },
        splitLine: { show: false },
    };
}

function yAxisFor(grid: number, position: string, min: number, max: number, interval: number, fontSize: number, labels: boolean) {
    return {
        type: 'value',
        gridIndex: grid,
        position,
        min,
        max,
        interval,
        z: 10,
        axisLine: { show: true, onZero: false, lineStyle: { color: '#000', width: 1.6 } },
        axisTick: { show: true, inside: true, length: 8, lineStyle: { color: '#000', width: 1.2 } },
        axisLabel: { show: labels, fontSize, fontFamily: FONT, color: '#000', margin: 9, formatter: fmtY },
        splitLine: { show: false },
    };
}

function scatter(axis: number, data: number[][]) {
    return {
        type: 'scatter',
        xAxisIndex: axis,
        yAxisIndex: axis,
        data,
        symbol: PLUS,
        symbolSize: 12,
        itemStyle: { color: '#000', borderColor: '#000', borderWidth: 1.5, opacity: 1 },
        progressive: 0,
        silent: true,
        z: 3,
    };
}

function redLine(axis: number, data: number[][], width: number) {
    return {
        type: 'line',
        xAxisIndex: axis,
        yAxisIndex: axis,
        data,
        symbol: 'none',
        smooth: true,
        lineStyle: { color: RED, width },
        silent: true,
        z: 5,
    };
}

// band = salmon area under the upper edge, covered by a white area under the lower edge
function band(axis: number, time: number[], mean: number[], sigma: number[]) {
    const common = {
        type: 'line',
        xAxisIndex: axis,
        yAxisIndex: axis,
        symbol: 'none',
        smooth: true,
        lineStyle: { color: '#222', width: 1.2 },
        silent: true,
    };
    return [
        {
            ...common,
            z: 1,
            data: time.map((t, i) => [t, mean[i] + sigma[i]]),
            areaStyle: { color: BAND, opacity: 1, origin: 'start' },
        },
        {
            ...common,
            z: 2,
            data: time.map((t, i) => [t, mean[i] - sigma[i]]),
            areaStyle: { color: '#fff', opacity: 1, origin: 'start' },
        },
    ];
}

export default function App() {
    const chartRef = useRef<HTMLDivElement>(null);

    useEffect(() => {
        if (!chartRef.current) return;
        document.body.style.margin = '0';
        const chart = echarts.init(chartRef.current, null, { renderer: 'svg' });

        const sAll = sEarly.concat(sSeasons, sCores);
        const rAll = rEarly.concat(rSeasons, rCores);
        const fitBLine = fitBTime.map((t, i) => [t, fitBMean[i]]);
        const fitCLine = fitCTime.map((t, i) => [t, fitCMean[i]]);

        const textStyle = (text: string, size: number) => ({
            text,
            font: `${size}px "${FONT}"`,
            fill: '#000',
            textAlign: 'center',
            textVerticalAlign: 'middle',
            align: 'center',
            verticalAlign: 'middle',
        });

        const option = {
            animation: false,
            backgroundColor: '#fff',
            grid: [
                { left: 120.5, top: 16.5, width: 1067.5, height: 610.5 },
                { left: 120.5, top: 701.6, width: 1067.5, height: 592.3 },
                { left: 120.5, top: 1387.6, width: 1067.5, height: 611.7 },
            ],
            xAxis: [
                xAxisFor(0, 'bottom', 24, true, 8),
                xAxisFor(0, 'top', 24, false, 8),
                xAxisFor(1, 'bottom', 20.5, true, 8),
                xAxisFor(1, 'top', 20.5, false, 8),
                xAxisFor(2, 'bottom', 24, true, 7),
                xAxisFor(2, 'top', 24, false, 7),
            ],
            yAxis: [
                yAxisFor(0, 'left', -0.2, 1.0, 0.2, 24, true),
                yAxisFor(0, 'right', -0.2, 1.0, 0.2, 24, false),
                yAxisFor(1, 'left', 0.4, 1.0, 0.1, 20.5, true),
                yAxisFor(1, 'right', 0.4, 1.0, 0.1, 20.5, false),
                yAxisFor(2, 'left', 0.4, 1.0, 0.1, 24, true),
                yAxisFor(2, 'right', 0.4, 1.0, 0.1, 24, false),
            ],
            series: [
                scatter(0, sAll),
                scatter(0, rAll),
                redLine(0, fitATop, 4.5),
                redLine(0, fitAResid, 4.5),
                ...band(2, fitBTime, fitBMean, fitBSigma),
                scatter(2, sAll),
                redLine(2, fitBLine, 4),
                ...band(4, fitCTime, fitCMean, fitCSigma),
                scatter(4, sAll),
                redLine(4, fitCLine, 4),
            ],
            graphic: [
                ...[[22, 321.7], [50, 997.7], [43, 1693.5]].map(([x, y]) => ({
                    type: 'text',
                    x,
                    y,
                    rotation: Math.PI / 2,
                    style: textStyle('S-index', 31),
                })),
                ...[['(a)', 68], ['(b)', 751], ['(c)', 1440]].map(([text, y]) => ({
                    type: 'text',
                    x: 1134,
                    y: y as number,
                    style: textStyle(text as string, 30),
                })),
                ...[1352, 2057].map((y) => ({
                    type: 'text',
                    x: 654,
                    y,
                    z: 10,
                    style: {
                        ...textStyle('{i|t} [yr]', 30),
                        rich: { i: { fontFamily: 'DejaVu Serif', fontStyle: 'italic', fontSize: 30 } },
                    },
                })),
                // panel (b) axis title is cut off by the panel below
                { type: 'rect', z: 20, shape: { x: 560, y: 1354, width: 200, height: 22 }, style: { fill: '#fff' } },
            ],
        };

        chart.setOption(option as any);

        return () => {
            chart.dispose();
        };
    }, []);

    return <div ref={chartRef} style={{ width: '1200px', height: '2076px' }} />;
}
